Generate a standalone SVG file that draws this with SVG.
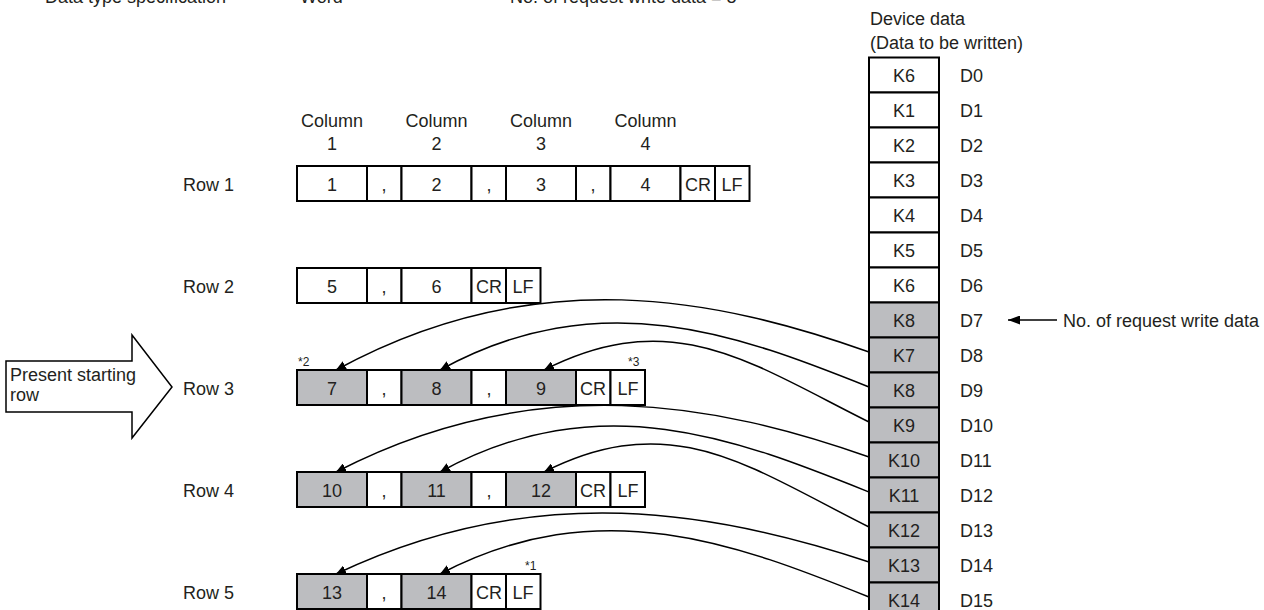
<svg xmlns="http://www.w3.org/2000/svg" width="1264" height="610" viewBox="0 0 1264 610">
<defs>
<style>
text{font-family:"Liberation Sans",Arial,Helvetica,sans-serif;font-size:18px;fill:#231f20}
.c{text-anchor:middle}
.s{font-size:12px}
.cell{fill:#fff;stroke:#000;stroke-width:2}
.g{fill:#bcbdc0}
.con{fill:none;stroke:#000;stroke-width:1.5}
</style>
<marker id="ah" markerUnits="userSpaceOnUse" markerWidth="11" markerHeight="9" refX="10" refY="4.5" orient="auto"><path d="M0,0 L10,4.5 L0,9 z" fill="#000"/></marker>
<marker id="ah2" markerUnits="userSpaceOnUse" markerWidth="13" markerHeight="9" refX="12" refY="4.5" orient="auto"><path d="M0,0 L12,4.5 L0,9 z" fill="#000"/></marker>
</defs>
<rect width="1264" height="610" fill="#fff"/>
<g id="header">
<text x="45" y="3">Data type specification</text>
<text x="300" y="3">Word</text>
<text x="510" y="3">No. of request write data = 8</text>
</g>
<g id="columns">
<text class="c" x="332" y="127">Column</text><text class="c" x="332" y="150">1</text>
<text class="c" x="436.5" y="127">Column</text><text class="c" x="436.5" y="150">2</text>
<text class="c" x="541" y="127">Column</text><text class="c" x="541" y="150">3</text>
<text class="c" x="645.5" y="127">Column</text><text class="c" x="645.5" y="150">4</text>
</g>
<g id="row1">
<text x="183" y="191">Row 1</text>
<rect class="cell" x="297" y="166" width="70" height="35"/><text class="c" x="332" y="191">1</text>
<rect class="cell" x="367" y="166" width="34.5" height="35"/><text class="c" x="384" y="191">,</text>
<rect class="cell" x="401.5" y="166" width="70" height="35"/><text class="c" x="436.5" y="191">2</text>
<rect class="cell" x="471.5" y="166" width="34.5" height="35"/><text class="c" x="489" y="191">,</text>
<rect class="cell" x="506" y="166" width="70" height="35"/><text class="c" x="541" y="191">3</text>
<rect class="cell" x="576" y="166" width="34.5" height="35"/><text class="c" x="593" y="191">,</text>
<rect class="cell" x="610.5" y="166" width="70" height="35"/><text class="c" x="645.5" y="191">4</text>
<rect class="cell" x="680.5" y="166" width="34.5" height="35"/><text class="c" x="698" y="191">CR</text>
<rect class="cell" x="715" y="166" width="34.5" height="35"/><text class="c" x="732" y="191">LF</text>
</g>
<g id="row2">
<text x="183" y="293">Row 2</text>
<rect class="cell" x="297" y="268" width="70" height="35"/><text class="c" x="332" y="293">5</text>
<rect class="cell" x="367" y="268" width="34.5" height="35"/><text class="c" x="384" y="293">,</text>
<rect class="cell" x="401.5" y="268" width="70" height="35"/><text class="c" x="436.5" y="293">6</text>
<rect class="cell" x="471.5" y="268" width="34.5" height="35"/><text class="c" x="489" y="293">CR</text>
<rect class="cell" x="506" y="268" width="34.5" height="35"/><text class="c" x="523" y="293">LF</text>
</g>
<g id="row3">
<text x="183" y="395">Row 3</text>
<text class="s" x="298" y="366">*2</text>
<text class="s" x="628" y="366">*3</text>
<rect class="cell g" x="297" y="370" width="70" height="35"/><text class="c" x="332" y="395">7</text>
<rect class="cell" x="367" y="370" width="34.5" height="35"/><text class="c" x="384" y="395">,</text>
<rect class="cell g" x="401.5" y="370" width="70" height="35"/><text class="c" x="436.5" y="395">8</text>
<rect class="cell" x="471.5" y="370" width="34.5" height="35"/><text class="c" x="489" y="395">,</text>
<rect class="cell g" x="506" y="370" width="70" height="35"/><text class="c" x="541" y="395">9</text>
<rect class="cell" x="576" y="370" width="34.5" height="35"/><text class="c" x="593" y="395">CR</text>
<rect class="cell" x="610.5" y="370" width="34.5" height="35"/><text class="c" x="628" y="395">LF</text>
</g>
<g id="row4">
<text x="183" y="497">Row 4</text>
<rect class="cell g" x="297" y="472" width="70" height="35"/><text class="c" x="332" y="497">10</text>
<rect class="cell" x="367" y="472" width="34.5" height="35"/><text class="c" x="384" y="497">,</text>
<rect class="cell g" x="401.5" y="472" width="70" height="35"/><text class="c" x="436.5" y="497">11</text>
<rect class="cell" x="471.5" y="472" width="34.5" height="35"/><text class="c" x="489" y="497">,</text>
<rect class="cell g" x="506" y="472" width="70" height="35"/><text class="c" x="541" y="497">12</text>
<rect class="cell" x="576" y="472" width="34.5" height="35"/><text class="c" x="593" y="497">CR</text>
<rect class="cell" x="610.5" y="472" width="34.5" height="35"/><text class="c" x="628" y="497">LF</text>
</g>
<g id="row5">
<text x="183" y="599">Row 5</text>
<text class="s" x="525" y="570">*1</text>
<rect class="cell g" x="297" y="574" width="70" height="35"/><text class="c" x="332" y="599">13</text>
<rect class="cell" x="367" y="574" width="34.5" height="35"/><text class="c" x="384" y="599">,</text>
<rect class="cell g" x="401.5" y="574" width="70" height="35"/><text class="c" x="436.5" y="599">14</text>
<rect class="cell" x="471.5" y="574" width="34.5" height="35"/><text class="c" x="489" y="599">CR</text>
<rect class="cell" x="506" y="574" width="34.5" height="35"/><text class="c" x="523" y="599">LF</text>
</g>
<g id="start-arrow">
<path d="M6,361 H132 V335 L172,387 L132,438 V412 H6 Z" fill="#fff" stroke="#000" stroke-width="1.5"/>
<text x="10" y="381">Present starting</text>
<text x="10" y="401">row</text>
</g>
<g id="device">
<text x="870" y="25">Device data</text>
<text x="870" y="49">(Data to be written)</text>
<rect class="cell" x="869" y="57.5" width="70" height="35"/><text class="c" x="904" y="82">K6</text><text x="960" y="82">D0</text>
<rect class="cell" x="869" y="92.5" width="70" height="35"/><text class="c" x="904" y="117">K1</text><text x="960" y="117">D1</text>
<rect class="cell" x="869" y="127.5" width="70" height="35"/><text class="c" x="904" y="152">K2</text><text x="960" y="152">D2</text>
<rect class="cell" x="869" y="162.5" width="70" height="35"/><text class="c" x="904" y="187">K3</text><text x="960" y="187">D3</text>
<rect class="cell" x="869" y="197.5" width="70" height="35"/><text class="c" x="904" y="222">K4</text><text x="960" y="222">D4</text>
<rect class="cell" x="869" y="232.5" width="70" height="35"/><text class="c" x="904" y="257">K5</text><text x="960" y="257">D5</text>
<rect class="cell" x="869" y="267.5" width="70" height="35"/><text class="c" x="904" y="292">K6</text><text x="960" y="292">D6</text>
<rect class="cell g" x="869" y="302.5" width="70" height="35"/><text class="c" x="904" y="327">K8</text><text x="960" y="327">D7</text>
<rect class="cell g" x="869" y="337.5" width="70" height="35"/><text class="c" x="904" y="362">K7</text><text x="960" y="362">D8</text>
<rect class="cell g" x="869" y="372.5" width="70" height="35"/><text class="c" x="904" y="397">K8</text><text x="960" y="397">D9</text>
<rect class="cell g" x="869" y="407.5" width="70" height="35"/><text class="c" x="904" y="432">K9</text><text x="960" y="432">D10</text>
<rect class="cell g" x="869" y="442.5" width="70" height="35"/><text class="c" x="904" y="467">K10</text><text x="960" y="467">D11</text>
<rect class="cell g" x="869" y="477.5" width="70" height="35"/><text class="c" x="904" y="502">K11</text><text x="960" y="502">D12</text>
<rect class="cell g" x="869" y="512.5" width="70" height="35"/><text class="c" x="904" y="537">K12</text><text x="960" y="537">D13</text>
<rect class="cell g" x="869" y="547.5" width="70" height="35"/><text class="c" x="904" y="572">K13</text><text x="960" y="572">D14</text>
<rect class="cell g" x="869" y="582.5" width="70" height="35"/><text class="c" x="904" y="607">K14</text><text x="960" y="607">D15</text>
</g>
<g id="request-label">
<line x1="1057" y1="320" x2="1008" y2="320" stroke="#000" stroke-width="1.5" marker-end="url(#ah2)"/>
<text x="1063" y="327">No. of request write data</text>
</g>
<g id="connectors">
<path class="con" marker-end="url(#ah)" d="M869,352 C719,299 537,260 336,370"/>
<path class="con" marker-end="url(#ah)" d="M869,387 C739,335 600,282 440,370"/>
<path class="con" marker-end="url(#ah)" d="M869,422 C749,362 673,305 544,370"/>
<path class="con" marker-end="url(#ah)" d="M869,457 C719,404 537,368 336,472"/>
<path class="con" marker-end="url(#ah)" d="M869,492 C739,440 600,384 440,472"/>
<path class="con" marker-end="url(#ah)" d="M869,527 C749,467 673,407 544,472"/>
<path class="con" marker-end="url(#ah)" d="M869,562 C719,512 537,478 336,574"/>
<path class="con" marker-end="url(#ah)" d="M869,597 C739,545 600,490 440,574"/>
</g>
</svg>
